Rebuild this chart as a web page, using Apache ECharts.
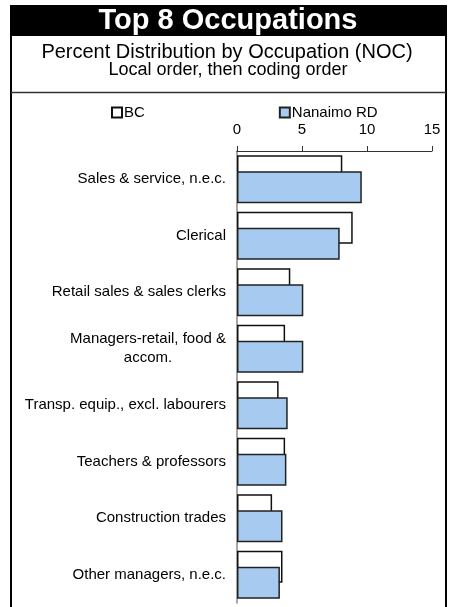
<!DOCTYPE html>
<html>
<head>
<meta charset="utf-8">
<script src="https://cdn.jsdelivr.net/npm/echarts@6/dist/echarts.min.js"></script>
<style>
html,body{margin:0;padding:0;background:#fff;}
#c{width:454px;height:607px;}
</style>
</head>
<body>
<div id="c"></div>
<script>
var categories = ['Sales & service, n.e.c.', 'Clerical', 'Retail sales & sales clerks', 'Managers-retail, food & accom.', 'Transp. equip., excl. labourers', 'Teachers & professors', 'Construction trades', 'Other managers, n.e.c.'];
var bcValues = [8.1, 8.9, 4.1, 3.7, 3.2, 3.7, 2.7, 3.5];
var nanaimoValues = [9.6, 7.9, 5.1, 5.1, 3.9, 3.8, 3.5, 3.3];
var xTicks = [0, 5, 10, 15];
var seriesNames = ['BC', 'Nanaimo RD'];

var chart = echarts.init(document.getElementById('c'), null, {renderer: 'canvas'});
var FONT = 'Liberation Sans, Arial, sans-serif';

chart.setOption({
  animation: false,
  backgroundColor: '#fff',
  textStyle: {fontFamily: FONT},
  graphic: [
    {type: 'rect', shape: {x: 10, y: 5, width: 437, height: 31}, style: {fill: '#000'}},
    {type: 'text', x: 228, y: 21, style: {text: 'Top 8 Occupations', fill: '#fff', font: 'bold 29px ' + FONT, textAlign: 'center', textVerticalAlign: 'middle'}},
    {type: 'text', x: 227, y: 52, style: {text: 'Percent Distribution by Occupation (NOC)', fill: '#000', font: '20px ' + FONT, textAlign: 'center', textVerticalAlign: 'middle'}},
    {type: 'text', x: 228, y: 70, style: {text: 'Local order, then coding order', fill: '#000', font: '18px ' + FONT, textAlign: 'center', textVerticalAlign: 'middle'}},
    {type: 'polyline', shape: {points: [[11, 36], [11, 607]]}, style: {stroke: '#000', lineWidth: 2}},
    {type: 'polyline', shape: {points: [[446, 36], [446, 607]]}, style: {stroke: '#000', lineWidth: 2}},
    {type: 'line', shape: {x1: 11, y1: 92.5, x2: 446, y2: 92.5}, style: {stroke: '#333', lineWidth: 1.5}}
  ],
  legend: {
    data: seriesNames,
    left: 106,
    top: 100,
    itemWidth: 10,
    itemHeight: 10,
    itemGap: 134,
    icon: 'rect',
    textStyle: {fontSize: 15, color: '#000', fontFamily: FONT, padding: [0, 0, 0, -3]},
    selectedMode: false
  },
  grid: {left: 237, right: 22, top: 151, bottom: 4, containLabel: false},
  xAxis: {
    type: 'value',
    position: 'top',
    min: 0,
    max: 15,
    interval: 5,
    axisLine: {show: true, lineStyle: {color: '#333', width: 1}},
    axisTick: {show: true, inside: false, length: 5, lineStyle: {color: '#333'}},
    axisLabel: {fontSize: 15, color: '#000', margin: 14, fontFamily: FONT,
      formatter: function (v) { return xTicks.indexOf(v) >= 0 ? String(v) : ''; }},
    splitLine: {show: false}
  },
  yAxis: {
    type: 'category',
    data: categories,
    inverse: true,
    axisLine: {show: true, lineStyle: {color: '#888', width: 1.5}},
    axisTick: {show: false},
    axisLabel: {
      fontSize: 15, color: '#000', margin: 11, fontFamily: FONT, lineHeight: 19,
      formatter: function (v) {
        if (v === 'Managers-retail, food & accom.') {
          return '{c|Managers-retail, food &}\n{c|accom.}';
        }
        return v;
      },
      rich: {c: {align: 'center', fontSize: 15, lineHeight: 19, color: '#000', fontFamily: FONT}}
    }
  },
  series: [
    {
      name: seriesNames[0], type: 'bar', data: bcValues,
      barWidth: 32, barGap: '-50%',
      itemStyle: {color: '#fff', borderColor: '#111', borderWidth: 1.5},
      z: 2
    },
    {
      name: seriesNames[1], type: 'bar', data: nanaimoValues,
      barWidth: 32, barGap: '-50%',
      itemStyle: {color: '#A6CAF0', borderColor: '#222', borderWidth: 1.5},
      z: 3
    }
  ]
});
</script>
</body>
</html>
